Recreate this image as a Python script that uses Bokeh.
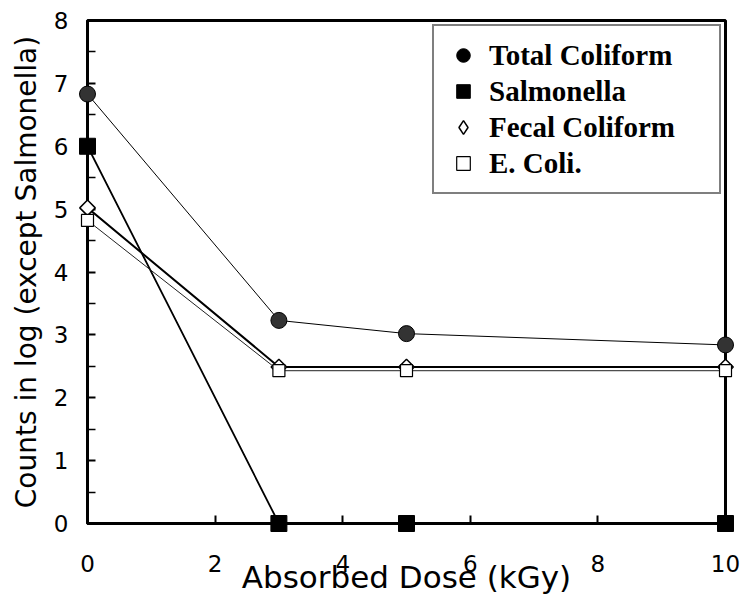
import math
from bokeh.plotting import figure
from bokeh.models import Range1d, FixedTicker, Legend, LegendItem
from bokeh.embed import file_html
from bokeh.resources import INLINE

# ---- data ----
dose = [0, 3, 5, 10]
total_coliform = [6.83, 3.23, 3.02, 2.84]
salmonella = [6.0, 0.0, 0.0, 0.0]
fecal_coliform = [5.02, 2.49, 2.49, 2.49]
e_coli = [4.82, 2.43, 2.43, 2.43]
series_labels = ["Total Coliform", "Salmonella", "Fecal Coliform", "E. Coli."]
x_ticks = [0, 2, 4, 6, 8, 10]
y_ticks = [0, 1, 2, 3, 4, 5, 6, 7, 8]
y_minor_ticks = [0.5, 1.5, 2.5, 3.5, 4.5, 5.5, 6.5, 7.5]
x_title = "Absorbed Dose (kGy)"
y_title = "Counts in log (except Salmonella)"

p = figure(width=742, height=602, x_range=Range1d(0, 10), y_range=Range1d(0, 8),
           output_backend="svg", toolbar_location=None,
           min_border_left=87, min_border_right=17, min_border_top=20, min_border_bottom=79)
p.grid.visible = False
p.outline_line_color = "black"
p.outline_line_width = 3
p.background_fill_color = "white"
p.border_fill_color = "white"

xa = p.xaxis[0]
xa.ticker = FixedTicker(ticks=x_ticks)
xa.axis_label = x_title
xa.axis_label_text_font = "DejaVu Sans"
xa.axis_label_text_font_size = "31px"
xa.axis_label_text_font_style = "normal"
xa.axis_label_text_color = "black"
xa.axis_label_standoff = -16
xa.major_label_text_font = "DejaVu Sans"
xa.major_label_text_font_size = "23px"
xa.major_label_text_color = "black"
xa.major_label_standoff = 31
xa.major_tick_in = 8
xa.major_tick_out = 0
xa.major_tick_line_width = 2
xa.major_tick_line_color = "black"
xa.minor_tick_line_color = None
xa.axis_line_width = 3
xa.axis_line_color = "black"

ya = p.yaxis[0]
ya.ticker = FixedTicker(ticks=y_ticks, minor_ticks=y_minor_ticks)
ya.axis_label = y_title
ya.axis_label_text_font = "DejaVu Sans"
ya.axis_label_text_font_size = "28px"
ya.axis_label_text_font_style = "normal"
ya.axis_label_text_color = "black"
ya.axis_label_standoff = 8
ya.major_label_text_font = "DejaVu Sans"
ya.major_label_text_font_size = "23px"
ya.major_label_text_color = "black"
ya.major_label_standoff = 19
ya.major_tick_in = 8
ya.major_tick_out = 0
ya.major_tick_line_width = 2
ya.major_tick_line_color = "black"
ya.minor_tick_in = 8
ya.minor_tick_out = 0
ya.minor_tick_line_width = 1.5
ya.minor_tick_line_color = "black"
ya.axis_line_width = 3
ya.axis_line_color = "black"

# lines
p.line(dose, total_coliform, line_color="black", line_width=1)
p.line(dose, salmonella, line_color="black", line_width=1.8)
p.line(dose, fecal_coliform, line_color="black", line_width=2)
p.line(dose, e_coli, line_color="#222222", line_width=1)

# markers (overlay level so they are not clipped by the frame)
r_tc = p.scatter(dose, total_coliform, marker="circle", size=16, fill_color="#333333",
                 line_color="black", line_width=1, level="overlay")
r_sal = p.scatter(dose, salmonella, marker="square", size=16, fill_color="black",
                  line_color="black", line_width=1, level="overlay")
r_fc = p.scatter(dose, fecal_coliform, marker="square", angle=math.pi / 4, size=11,
                 fill_color="white", line_color="black", line_width=1.5, level="overlay")
r_ec = p.scatter(dose, e_coli, marker="square", size=12, fill_color="white",
                 line_color="black", line_width=1.2, level="overlay")

# legend swatches (hidden renderers on the same data, styled like the reference key)
k_tc = p.scatter(dose, total_coliform, marker="circle", fill_color="black",
                 line_color="black", visible=False)
k_fc = p.scatter(dose, fecal_coliform, marker="diamond", fill_color="white",
                 line_color="black", line_width=1.5, visible=False)

legend = Legend(items=[LegendItem(label=series_labels[0], renderers=[k_tc]),
                       LegendItem(label=series_labels[1], renderers=[r_sal]),
                       LegendItem(label=series_labels[2], renderers=[k_fc]),
                       LegendItem(label=series_labels[3], renderers=[r_ec])],
                location="top_right")
legend.margin = 4
legend.padding = 12
legend.spacing = 2
legend.glyph_width = 34
legend.glyph_height = 34
legend.label_height = 34
legend.label_standoff = 9
legend.label_width = 218
legend.label_text_font = "Liberation Serif"
legend.label_text_font_style = "bold"
legend.label_text_font_size = "29px"
legend.label_text_color = "black"
legend.border_line_color = "black"
legend.border_line_width = 2
legend.background_fill_color = "white"
legend.background_fill_alpha = 1
p.add_layout(legend)

open("out.html", "w").write(file_html(p, INLINE))
